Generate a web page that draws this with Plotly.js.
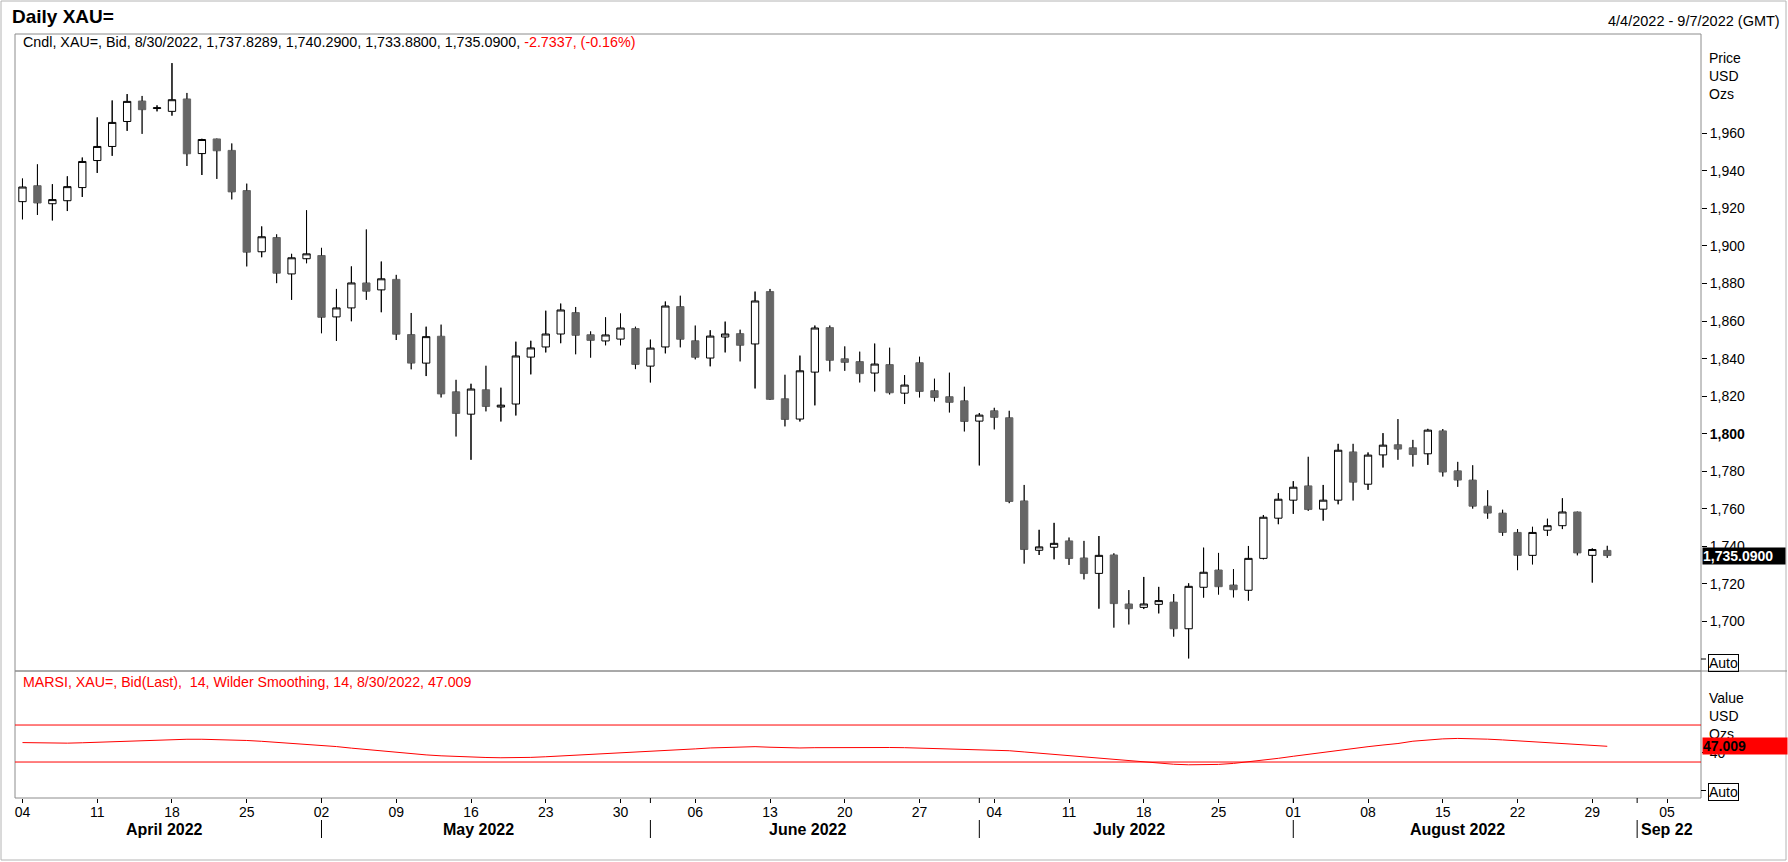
<!DOCTYPE html>
<html>
<head>
<meta charset="utf-8">
<script src="https://cdn.plot.ly/plotly-3.0.1.min.js"></script>
<style>
html,body{margin:0;padding:0;background:#fff;}
#chart{width:1788px;height:862px;}
</style>
</head>
<body>
<div id="chart"></div>
<script>
// ---------------- DATA ----------------
const dates = [
 '2022-04-04','2022-04-05','2022-04-06','2022-04-07','2022-04-08','2022-04-11','2022-04-12','2022-04-13','2022-04-14','2022-04-15',
 '2022-04-18','2022-04-19','2022-04-20','2022-04-21','2022-04-22','2022-04-25','2022-04-26','2022-04-27','2022-04-28','2022-04-29',
 '2022-05-02','2022-05-03','2022-05-04','2022-05-05','2022-05-06','2022-05-09','2022-05-10','2022-05-11','2022-05-12','2022-05-13',
 '2022-05-16','2022-05-17','2022-05-18','2022-05-19','2022-05-20','2022-05-23','2022-05-24','2022-05-25','2022-05-26','2022-05-27',
 '2022-05-30','2022-05-31','2022-06-01','2022-06-02','2022-06-03','2022-06-06','2022-06-07','2022-06-08','2022-06-09','2022-06-10',
 '2022-06-13','2022-06-14','2022-06-15','2022-06-16','2022-06-17','2022-06-20','2022-06-21','2022-06-22','2022-06-23','2022-06-24',
 '2022-06-27','2022-06-28','2022-06-29','2022-06-30','2022-07-01','2022-07-04','2022-07-05','2022-07-06','2022-07-07','2022-07-08',
 '2022-07-11','2022-07-12','2022-07-13','2022-07-14','2022-07-15','2022-07-18','2022-07-19','2022-07-20','2022-07-21','2022-07-22',
 '2022-07-25','2022-07-26','2022-07-27','2022-07-28','2022-07-29','2022-08-01','2022-08-02','2022-08-03','2022-08-04','2022-08-05',
 '2022-08-08','2022-08-09','2022-08-10','2022-08-11','2022-08-12','2022-08-15','2022-08-16','2022-08-17','2022-08-18','2022-08-19',
 '2022-08-22','2022-08-23','2022-08-24','2022-08-25','2022-08-26','2022-08-29','2022-08-30'
];
const openP = [
 1923.6,1932.1,1922.5,1924.1,1931.1,1945.5,1953.0,1966.3,1977.2,1973.2,
 1971.7,1978.3,1949.2,1957.0,1950.9,1929.5,1896.9,1904.5,1885.1,1893.2,
 1894.9,1862.2,1867.0,1880.3,1876.6,1882.2,1852.8,1837.6,1851.9,1822.3,
 1810.4,1823.4,1814.2,1815.8,1840.8,1846.2,1853.1,1864.5,1852.7,1849.4,
 1850.4,1856.0,1836.0,1846.2,1867.7,1849.5,1840.3,1851.5,1853.3,1847.8,
 1875.7,1818.6,1807.8,1832.8,1856.5,1839.9,1838.4,1832.3,1836.8,1821.6,
 1837.8,1822.9,1819.7,1817.5,1806.7,1812.2,1808.5,1764.2,1737.9,1739.5,
 1742.9,1733.8,1725.6,1735.4,1709.3,1707.5,1709.1,1710.3,1696.1,1718.2,
 1727.4,1719.4,1716.6,1733.6,1755.0,1764.6,1772.2,1759.8,1764.6,1790.3,
 1773.1,1788.7,1794.1,1792.5,1789.3,1801.5,1780.2,1775.3,1761.4,1757.7,
 1747.4,1735.2,1748.6,1751.0,1758.3,1735.2,1737.8289
];
const highP = [
 1935.9,1943.5,1932.9,1937.1,1947.1,1968.5,1977.5,1980.9,1979.9,1974.9,
 1997.4,1981.5,1957.1,1957.2,1954.6,1933.2,1910.4,1906.2,1895.8,1919.0,
 1899.0,1877.1,1889.1,1908.8,1891.7,1884.6,1864.3,1857.0,1858.1,1828.7,
 1826.6,1836.2,1824.5,1849.0,1849.5,1865.5,1869.3,1867.5,1854.5,1862.0,
 1864.0,1857.0,1850.1,1870.4,1873.5,1857.6,1855.1,1859.7,1855.4,1875.7,
 1877.1,1831.4,1841.6,1857.6,1857.6,1846.5,1843.7,1848.0,1845.8,1831.2,
 1841.0,1829.3,1832.5,1825.0,1811.0,1813.8,1812.2,1772.7,1748.8,1752.5,
 1744.7,1742.9,1745.5,1736.3,1716.7,1723.7,1718.4,1714.6,1720.3,1739.3,
 1736.5,1727.9,1740.2,1756.7,1768.3,1774.7,1787.7,1772.7,1794.6,1794.6,
 1790.0,1800.3,1807.8,1796.7,1802.6,1802.5,1785.0,1783.2,1769.9,1759.5,
 1749.2,1750.4,1754.7,1765.6,1758.5,1738.9,1740.29
];
const lowP = [
 1914.2,1916.5,1913.6,1918.6,1926.1,1938.9,1948.0,1961.3,1959.7,1971.7,
 1969.4,1942.6,1937.8,1935.7,1924.8,1889.1,1894.0,1880.2,1871.3,1890.8,
 1853.5,1849.4,1859.9,1871.3,1864.7,1849.9,1834.3,1830.7,1819.3,1798.5,
 1786.1,1811.9,1806.5,1809.7,1831.6,1843.3,1848.2,1842.3,1840.5,1847.1,
 1847.1,1834.4,1827.3,1842.8,1846.0,1839.6,1835.9,1843.3,1838.5,1824.1,
 1818.0,1803.9,1806.5,1815.1,1833.2,1833.5,1827.3,1822.5,1820.9,1815.8,
 1819.3,1817.2,1811.3,1801.2,1783.1,1802.3,1763.0,1730.8,1735.4,1733.1,
 1730.1,1722.4,1706.8,1696.7,1698.4,1706.6,1704.3,1691.9,1680.3,1712.7,
 1714.3,1712.8,1711.1,1733.1,1751.8,1757.3,1758.9,1753.7,1762.4,1764.4,
 1770.1,1782.0,1786.1,1782.5,1783.4,1777.2,1771.7,1760.1,1754.7,1745.6,
 1727.3,1730.4,1745.6,1749.2,1735.2,1720.7,1733.88
];
const closeP = [
 1931.4,1922.9,1924.7,1931.6,1945.0,1953.0,1965.8,1977.0,1972.6,1973.6,
 1977.9,1949.1,1956.7,1950.7,1928.8,1896.7,1904.9,1885.5,1893.7,1895.8,
 1862.0,1867.0,1880.3,1875.9,1882.5,1853.0,1837.6,1851.7,1821.2,1810.8,
 1823.8,1814.5,1815.2,1841.4,1845.7,1853.1,1865.9,1852.4,1849.7,1852.6,
 1856.3,1836.9,1845.6,1868.0,1850.3,1840.7,1852.0,1853.1,1847.1,1870.7,
 1818.3,1807.6,1833.5,1856.3,1839.1,1838.0,1832.0,1837.1,1821.8,1825.9,
 1822.5,1819.3,1816.7,1806.5,1809.9,1808.7,1763.9,1738.3,1739.7,1741.6,
 1733.5,1725.5,1735.2,1709.5,1706.8,1709.3,1711.1,1696.1,1718.7,1726.2,
 1718.5,1716.9,1733.6,1755.5,1765.1,1771.5,1759.6,1764.6,1791.2,1774.2,
 1788.6,1793.9,1791.8,1788.9,1801.9,1779.6,1775.3,1761.4,1757.7,1747.4,
 1735.2,1747.4,1751.0,1758.3,1736.5,1738.3,1735.09
];
const rsi = [
 51.0,50.6,50.3,50.4,50.8,51.4,51.9,52.6,53.3,54.0,
 54.5,54.6,54.6,54.4,54.0,53.3,52.4,51.4,50.5,49.4,
 48.1,46.7,45.0,43.4,41.8,40.2,38.9,37.7,36.7,35.9,
 35.3,34.9,34.6,34.6,35.0,35.7,36.5,37.2,37.8,39.0,
 39.6,40.3,41.5,42.4,43.3,44.2,45.2,45.9,46.5,46.6,
 46.0,45.3,45.2,45.5,45.7,45.8,45.8,45.8,45.7,45.5,
 45.1,44.7,44.3,43.9,43.6,43.2,42.2,40.9,39.6,38.2,
 36.6,35.2,34.0,32.6,31.2,29.8,28.6,27.6,27.0,26.9,
 27.4,28.5,30.1,32.0,34.0,36.2,38.4,40.6,42.7,44.7,
 46.6,48.4,50.0,52.5,54.0,55.0,55.5,55.3,54.7,53.9,
 53.0,52.0,51.0,50.0,49.0,48.0,47.009
];
const priceTicks = [1700,1720,1740,1760,1780,1800,1820,1840,1860,1880,1900,1920,1940,1960];
const boldPriceTick = 1800;
const rsiTicks = [40];
const rsiLevels = [70, 30];
const dayTickDates = ['2022-04-04','2022-04-11','2022-04-18','2022-04-25','2022-05-02','2022-05-09','2022-05-16','2022-05-23','2022-05-30',
 '2022-06-06','2022-06-13','2022-06-20','2022-06-27','2022-07-04','2022-07-11','2022-07-18','2022-07-25','2022-08-01','2022-08-08',
 '2022-08-15','2022-08-22','2022-08-29','2022-09-05'];
const monthLabels = ['April 2022','May 2022','June 2022','July 2022','August 2022','Sep 22'];
const monthStarts = ['2022-04-04','2022-05-02','2022-06-01','2022-07-01','2022-08-01','2022-09-01'];
const monthEnds   = ['2022-04-29','2022-05-31','2022-06-30','2022-07-29','2022-08-31','2022-09-07'];
const xRange = ['2022-04-01 12:00','2022-09-07 06:30'];
const priceRange = [1673.6, 2012.9];
const rsiRange = [-8.9, 128.4];
const headerChange = '-2.7337, (-0.16%)';
const dateRangeText = '4/4/2022 - 9/7/2022 (GMT)';

// ---------------- HELPERS ----------------
const N = dates.length;
const last = N - 1;
const fmt4 = v => v.toLocaleString('en-US',{minimumFractionDigits:4,maximumFractionDigits:4});
const fmt3 = v => v.toFixed(3);
function tradingMid(a, b){
  const days = [];
  const end = new Date(b+'T00:00:00Z');
  for(let d = new Date(a+'T00:00:00Z'); d <= end; d.setUTCDate(d.getUTCDate()+1)){
    const w = d.getUTCDay();
    if(w !== 0 && w !== 6) days.push(new Date(d.getTime()));
  }
  const m = (days.length-1)/2;
  const t = new Date(days[Math.floor(m)].getTime() + (m%1)*86400000);
  return t.toISOString().slice(0,19).replace('T',' ');
}

// wick segments (black) built from the OHLC arrays
const wx = [], wy = [];
for(let i=0;i<N;i++){
  const top = Math.max(openP[i], closeP[i]);
  const bot = Math.min(openP[i], closeP[i]);
  wx.push(dates[i], dates[i], null, dates[i], dates[i], null);
  wy.push(highP[i], top, null, bot, lowP[i], null);
}

// ---------------- GEOMETRY (pixels -> paper) ----------------
const PL = 15, PR = 1701, PT = 34, PB = 798;
const px = X => (X - PL)/(PR - PL);
const py = Y => (PB - Y)/(PB - PT);
const split = py(671);

const fontMain = 'Liberation Sans, Arial, sans-serif';
const fontNarrow = 'Liberation Sans Narrow, Arial Narrow, Liberation Sans, Arial, sans-serif';

// ---------------- TRACES ----------------
const candle = {
  type:'candlestick', x:dates, open:openP, high:highP, low:lowP, close:closeP,
  xaxis:'x', yaxis:'y',
  increasing:{line:{color:'#000000',width:1}, fillcolor:'#ffffff'},
  decreasing:{line:{color:'#666666',width:1}, fillcolor:'#666666'},
  whiskerwidth:0, hoverinfo:'skip', showlegend:false
};
const wicks = {
  type:'scatter', mode:'lines', x:wx, y:wy, xaxis:'x', yaxis:'y',
  line:{color:'#000000', width:1}, hoverinfo:'skip', showlegend:false, connectgaps:false
};
const rsiLine = {
  type:'scatter', mode:'lines', x:dates, y:rsi, xaxis:'x', yaxis:'y2',
  line:{color:'#ff0000', width:1}, hoverinfo:'skip', showlegend:false
};

// ---------------- SHAPES ----------------
const gray = '#8c8c8c';
const shapes = [
  {type:'rect', xref:'paper', yref:'paper', x0:px(1), x1:px(1786), y0:py(860), y1:py(1), line:{color:'#b4b4b4', width:1}},
  {type:'rect', xref:'paper', yref:'paper', x0:0, x1:1, y0:split, y1:1, line:{color:gray, width:1}},
  {type:'rect', xref:'paper', yref:'paper', x0:0, x1:1, y0:0, y1:split, line:{color:gray, width:1}},
  {type:'line', xref:'paper', yref:'paper', x0:1, x1:px(1787), y0:split, y1:split, line:{color:gray, width:1}},
  {type:'line', xref:'paper', yref:'paper', x0:1, x1:px(1706), y0:py(659), y1:py(659), line:{color:'#000', width:1}},
  {type:'line', xref:'paper', yref:'paper', x0:1, x1:px(1706), y0:py(790.5), y1:py(790.5), line:{color:'#000', width:1}}
];
rsiLevels.forEach(v => shapes.push({type:'line', xref:'paper', yref:'y2', x0:0, x1:1, y0:v, y1:v, line:{color:'#ff0000', width:1}}));
monthStarts.forEach((d, k) => {
  if(k === 0) return;
  shapes.push({type:'line', xref:'x', yref:'paper', x0:d, x1:d, y0:py(820), y1:py(838), line:{color:'#000', width:1}});
  shapes.push({type:'line', xref:'x', yref:'paper', x0:d, x1:d, y0:py(798), y1:py(803), line:{color:'#000', width:1}});
});

// ---------------- ANNOTATIONS ----------------
const ann = [];
const A = o => ann.push(Object.assign({showarrow:false, xref:'paper', yref:'paper', xanchor:'left', yanchor:'middle',
  font:{family:fontMain, size:14, color:'#000'}}, o));
A({text:'<b>Daily XAU=</b>', x:px(10), y:py(17), font:{family:fontMain, size:19, color:'#000'}});
A({text:dateRangeText, x:px(1782), xanchor:'right', y:py(21), font:{family:fontMain, size:14.5, color:'#000'}});
A({text:'Cndl, XAU=, Bid, 8/30/2022, ' + [openP[last],highP[last],lowP[last],closeP[last]].map(fmt4).join(', ') +
   ', <span style="color:#ff0000">' + headerChange + '</span>', x:px(21), y:py(42), font:{family:fontMain, size:14.3, color:'#000'}});
A({text:'MARSI, XAU=, Bid(Last), \u00a014, Wilder Smoothing, 14, 8/30/2022, ' + fmt3(rsi[last]),
   x:px(21), y:py(682), font:{family:fontMain, size:14.2, color:'#ff0000'}});
['Price','USD','Ozs'].forEach((t,k) => A({text:t, x:px(1707), y:py(58 + 18*k)}));
['Value','USD','Ozs'].forEach((t,k) => A({text:t, x:px(1707), y:py(698 + 18*k)}));
A({text:'Auto', x:px(1708), y:py(663), bordercolor:'#000', borderwidth:1, borderpad:0});
A({text:'Auto', x:px(1708), y:py(791.5), bordercolor:'#000', borderwidth:1, borderpad:0});
A({text:'<b>' + fmt4(closeP[last]) + '</b>', x:px(1701.5), yref:'y', y:closeP[last], bgcolor:'#000', width:82, align:'left',
   borderpad:0, font:{family:fontMain, size:14, color:'#fff'}});
A({text:'<b>' + fmt3(rsi[last]) + '</b>', x:px(1701.5), yref:'y2', y:rsi[last], bgcolor:'#ff0000', width:84, align:'left',
   borderpad:0, font:{family:fontMain, size:14, color:'#000'}});
monthLabels.forEach((t,k) => A({text:'<b>'+t+'</b>', xref:'x', x:tradingMid(monthStarts[k], monthEnds[k]), xanchor:'center',
   y:py(829.5), font:{family:fontNarrow, size:16, color:'#000'}}));

// ---------------- LAYOUT ----------------
const priceText = priceTicks.map(v => v === boldPriceTick ? '<b>' + v.toLocaleString('en-US') + '</b>' : v.toLocaleString('en-US'));
const layout = {
  width:1788, height:862,
  margin:{l:PL, r:1788-PR, t:PT, b:862-PB, pad:0},
  paper_bgcolor:'#ffffff', plot_bgcolor:'#ffffff',
  showlegend:false,
  font:{family:fontMain, size:13, color:'#000'},
  xaxis:{
    type:'date', range:xRange, rangebreaks:[{bounds:['sat','mon']}], anchor:'y2',
    tickmode:'array', tickvals:dayTickDates, ticktext:dayTickDates.map(d => d.slice(8,10)),
    ticks:'outside', ticklen:4, tickwidth:1, tickcolor:'#000', ticklabelstandoff:-3,
    tickfont:{family:fontNarrow, size:14, color:'#000'},
    showgrid:false, zeroline:false, showline:false, fixedrange:true,
    rangeslider:{visible:false}
  },
  yaxis:{
    domain:[split, 1], range:priceRange, side:'right', anchor:'x',
    tickmode:'array', tickvals:priceTicks, ticktext:priceText,
    ticks:'outside', ticklen:5, tickwidth:1, tickcolor:'#000',
    tickfont:{family:fontMain, size:14, color:'#000'},
    showgrid:false, zeroline:false, showline:false, fixedrange:true
  },
  yaxis2:{
    domain:[0, split], range:rsiRange, side:'right', anchor:'x',
    tickmode:'array', tickvals:rsiTicks, ticktext:rsiTicks.map(String),
    ticks:'outside', ticklen:5, tickwidth:1, tickcolor:'#000',
    tickfont:{family:fontMain, size:14, color:'#000'},
    showgrid:false, zeroline:false, showline:false, fixedrange:true
  },
  shapes:shapes,
  annotations:ann
};

Plotly.newPlot('chart', [candle, wicks, rsiLine], layout, {displayModeBar:false, staticPlot:true});
</script>
</body>
</html>
